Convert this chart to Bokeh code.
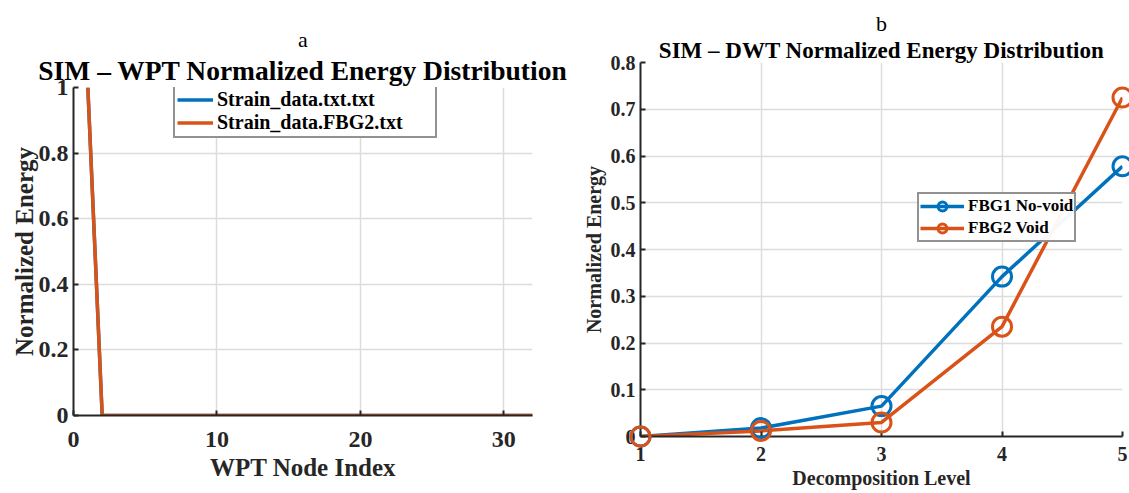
from bokeh.plotting import figure
from bokeh.layouts import row, column
from bokeh.models import Title, Legend, LegendItem, CustomJSTickFormatter, FixedTicker, Range1d
from bokeh.embed import file_html
from bokeh.resources import INLINE

# ---- data (panel a) ----
wpt_nodes = list(range(1, 33))
wpt_fbg1 = [1.0] + [0.0] * 31
wpt_fbg2 = [1.0] + [0.0] * 31
wpt_names = ["Strain_data.txt.txt", "Strain_data.FBG2.txt"]
wpt_xticks = [0, 10, 20, 30]
wpt_yticks = [0, 0.2, 0.4, 0.6, 0.8, 1.0]

# ---- data (panel b) ----
dwt_levels = [1, 2, 3, 4, 5]
dwt_fbg1 = [0.0, 0.018, 0.065, 0.342, 0.578]
dwt_fbg2 = [0.0, 0.012, 0.030, 0.235, 0.725]
dwt_names = ["FBG1 No-void", "FBG2 Void"]
dwt_yticks = [0, 0.1, 0.2, 0.3, 0.4, 0.5, 0.6, 0.7, 0.8]

BLUE = "#0072BD"
ORANGE = "#D95319"
AX = "#262626"
SERIF = "Liberation Serif"
fmt = CustomJSTickFormatter(code="return (Math.round(tick*10)/10).toString();")


def style(p, tick_size, label_size):
    for ax in (p.xaxis[0], p.yaxis[0]):
        ax.axis_line_color = AX
        ax.axis_line_width = 2
        ax.major_tick_line_color = AX
        ax.major_tick_line_width = 2
        ax.major_tick_in = 5
        ax.major_tick_out = 0
        ax.minor_tick_line_color = None
        ax.major_label_text_font = SERIF
        ax.major_label_text_font_style = "bold"
        ax.major_label_text_font_size = tick_size
        ax.major_label_text_color = AX
        ax.axis_label_text_font = SERIF
        ax.axis_label_text_font_style = "bold"
        ax.axis_label_text_font_size = label_size
        ax.axis_label_text_color = AX
        ax.formatter = fmt
    p.xgrid.grid_line_color = "#dcdcdc"
    p.ygrid.grid_line_color = "#dcdcdc"
    p.xgrid.grid_line_width = 1.5
    p.ygrid.grid_line_width = 1.5
    p.outline_line_color = None
    p.background_fill_color = "white"
    p.border_fill_color = "white"


# ---------------- panel a ----------------
p1 = figure(width=570, height=493, output_backend="svg", toolbar_location=None,
            x_range=Range1d(0, 32), y_range=Range1d(0, 1),
            min_border_left=73, min_border_right=38, min_border_top=87, min_border_bottom=78)
p1.add_layout(Title(text="SIM – WPT Normalized Energy Distribution", text_font=SERIF,
                    text_font_style="bold", text_font_size="27.5px", align="center",
                    text_color="black", standoff=3), "above")
p1.add_layout(Title(text="a", text_font=SERIF, text_font_style="normal",
                    text_font_size="22px", align="center", text_color="black", standoff=0), "above")
p1.xaxis.ticker = FixedTicker(ticks=wpt_xticks)
p1.yaxis.ticker = FixedTicker(ticks=wpt_yticks)
p1.xaxis.axis_label = "WPT Node Index"
p1.yaxis.axis_label = "Normalized Energy"
style(p1, "24px", "25px")
p1.xaxis.major_label_standoff = 16
p1.xaxis.axis_label_standoff = 4
p1.yaxis.major_label_standoff = 5
p1.yaxis.axis_label_standoff = -2
l1 = p1.line(wpt_nodes, wpt_fbg1, line_color=BLUE, line_width=3.5)
l2 = p1.line(wpt_nodes, wpt_fbg2, line_color=ORANGE, line_width=3.5)
leg1 = Legend(items=[LegendItem(label=wpt_names[0], renderers=[l1]),
                     LegendItem(label=wpt_names[1], renderers=[l2])],
              location=(100, 277), label_text_font=SERIF, label_text_font_style="bold",
              label_text_font_size="20px", label_text_color="black",
              border_line_color=AX, border_line_width=2, glyph_width=36, glyph_height=17,
              padding=2, spacing=0, margin=0, label_standoff=4, label_height=17, label_width=216)
p1.add_layout(leg1, "center")

# ---------------- panel b ----------------
p2 = figure(width=559, height=493, output_backend="svg", toolbar_location=None,
            x_range=Range1d(1, 5), y_range=Range1d(0, 0.8),
            min_border_left=70, min_border_right=7, min_border_top=62, min_border_bottom=57)
p2.add_layout(Title(text="SIM – DWT Normalized Energy Distribution", text_font=SERIF,
                    text_font_style="bold", text_font_size="23px", align="center",
                    text_color="black", standoff=0), "above")
p2.add_layout(Title(text="b", text_font=SERIF, text_font_style="normal",
                    text_font_size="22px", align="center", text_color="black", standoff=0), "above")
p2.xaxis.ticker = FixedTicker(ticks=dwt_levels)
p2.yaxis.ticker = FixedTicker(ticks=dwt_yticks)
p2.xaxis.axis_label = "Decomposition Level"
p2.yaxis.axis_label = "Normalized Energy"
style(p2, "20px", "20px")
p2.xaxis.major_label_standoff = 10
p2.xaxis.axis_label_standoff = 3
p2.yaxis.major_label_standoff = 5
p2.yaxis.axis_label_standoff = 3
b1 = p2.line(dwt_levels, dwt_fbg1, line_color=BLUE, line_width=3.5)
b1m = p2.scatter(dwt_levels, dwt_fbg1, marker="circle", size=19, fill_color=None,
                 line_color=BLUE, line_width=3, level="overlay")
b2 = p2.line(dwt_levels, dwt_fbg2, line_color=ORANGE, line_width=3.5)
b2m = p2.scatter(dwt_levels, dwt_fbg2, marker="circle", size=19, fill_color=None,
                 line_color=ORANGE, line_width=3, level="overlay")
leg2 = Legend(items=[LegendItem(label=dwt_names[0], renderers=[b1, b1m]),
                     LegendItem(label=dwt_names[1], renderers=[b2, b2m])],
              location=(277, 194), label_text_font=SERIF, label_text_font_style="bold",
              label_text_font_size="17px", label_text_color="black",
              border_line_color=AX, border_line_width=2, glyph_width=44, glyph_height=22,
              padding=1, spacing=0, margin=0, label_standoff=4, label_height=16)
p2.add_layout(leg2, "center")

layout = row(column(p1), column(p2), spacing=0)
open("out.html", "w").write(file_html(layout, INLINE))
